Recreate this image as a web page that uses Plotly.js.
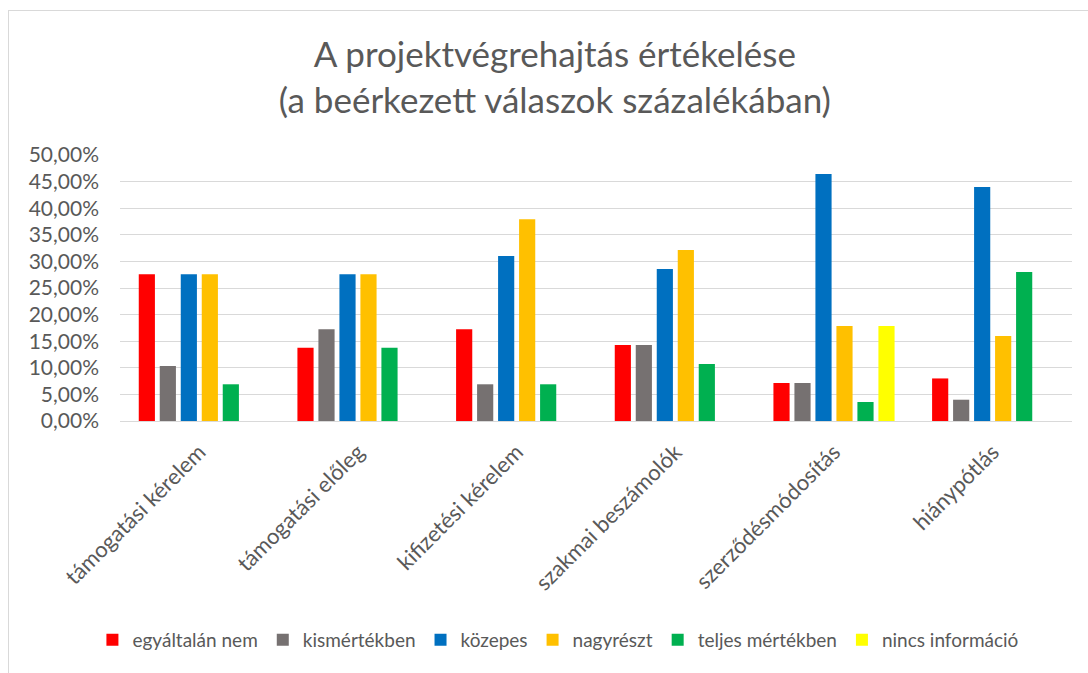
<!DOCTYPE html>
<html>
<head>
<meta charset="utf-8">
<script src="https://cdn.plot.ly/plotly-3.0.1.min.js"></script>
<style>
  html, body { margin: 0; padding: 0; background: #fff; }
  #frame { position: absolute; left: 8px; top: 10px; width: 1100px; height: 700px;
           border-top: 1px solid #d9d9d9; border-left: 1px solid #d9d9d9; }
  #chart { position: absolute; left: 0; top: 0; width: 1088px; height: 673px; }
</style>
</head>
<body>
<div id="frame"></div>
<div id="chart"></div>
<script>
const categories = ['támogatási kérelem', 'támogatási előleg', 'kifizetési kérelem',
                    'szakmai beszámolók', 'szerződésmódosítás', 'hiánypótlás']

const egyaltalanNem = [0.2759, 0.1379, 0.1724, 0.1429, 0.0714, 0.08]
const kismertekben = [0.1034, 0.1724, 0.0690, 0.1429, 0.0714, 0.04]
const kozepes = [0.2759, 0.2759, 0.3103, 0.2857, 0.4643, 0.44]
const nagyreszt = [0.2759, 0.2759, 0.3793, 0.3214, 0.1786, 0.16]
const teljesMertekben = [0.0690, 0.1379, 0.0690, 0.1071, 0.0357, 0.28]
const nincsInformacio = [0, 0, 0, 0, 0.1786, 0]

const seriesNames = ['egyáltalán nem', 'kismértékben', 'közepes', 'nagyrészt',
                     'teljes mértékben', 'nincs információ']
const seriesColors = ['#ff0000', '#767171', '#0070c0', '#ffc000', '#00b050', '#ffff00']
const seriesValues = [egyaltalanNem, kismertekben, kozepes, nagyreszt, teljesMertekben, nincsInformacio]

const textColor = '#595959'
const font = 'Lato, sans-serif'

const data = seriesValues.map((vals, i) => ({
    type: 'bar',
    x: categories,
    y: vals,
    name: seriesNames[i],
    marker: {color: seriesColors[i]},
    hoverinfo: 'x+y+name',
}))

const layout = {
    width: 1088,
    height: 673,
    paper_bgcolor: 'rgba(0,0,0,0)',
    plot_bgcolor: 'rgba(0,0,0,0)',
    separators: ', ',
    title: {
        text: 'A projektvégrehajtás értékelése<br>(a beérkezett válaszok százalékában)',
        font: {family: font, size: 35, color: textColor},
        x: 0.51,
        xanchor: 'center',
        y: 0.9,
        yanchor: 'middle',
    },
    barmode: 'group',
    bargap: 0.206,
    bargroupgap: 0.23,
    margin: {l: 120, r: 16, t: 155, b: 252},
    xaxis: {
        tickangle: -45,
        tickfont: {family: font, size: 22, color: textColor},
        ticklabelstandoff: 13,
        showline: false,
        ticks: '',
    },
    yaxis: {
        range: [0, 0.5],
        dtick: 0.05,
        tickformat: '.2%',
        tickfont: {family: font, size: 21, color: textColor},
        ticklabelstandoff: 20,
        gridcolor: '#d9d9d9',
        gridwidth: 1.3,
        zeroline: true,
        zerolinecolor: '#d9d9d9',
        zerolinewidth: 1.3,
        ticks: '',
    },
    legend: {
        orientation: 'h',
        x: 0.46,
        xanchor: 'center',
        y: -0.823,
        yanchor: 'middle',
        font: {family: font, size: 19, color: textColor},
        itemwidth: 30,
        tracegroupgap: 0,
    },
    showlegend: true,
}

Plotly.newPlot('chart', data, layout, {displayModeBar: false})
</script>
</body>
</html>
